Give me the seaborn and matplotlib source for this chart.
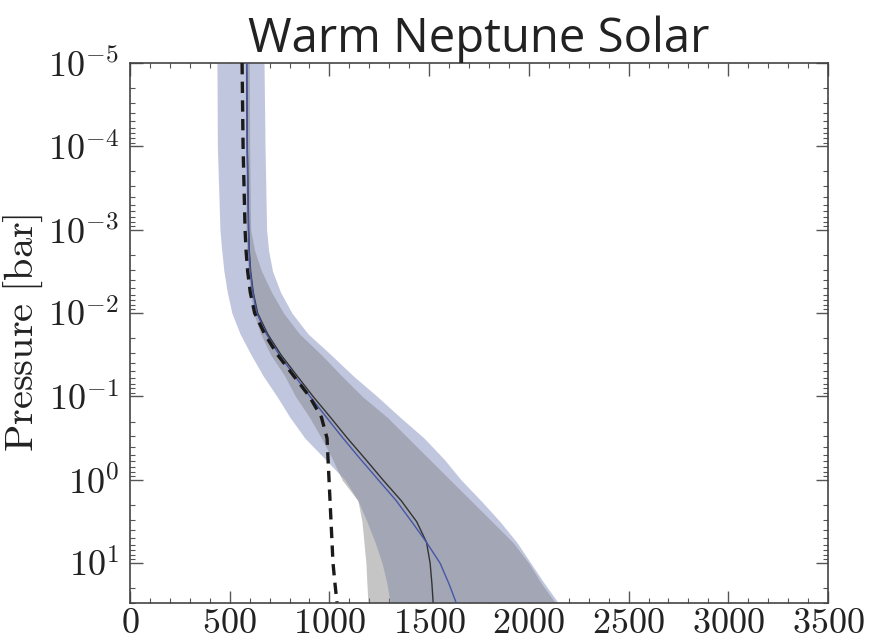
import numpy as np
import pandas as pd
import matplotlib
matplotlib.use("Agg")
import matplotlib.pyplot as plt
import seaborn as sns
from matplotlib.ticker import MultipleLocator, LogLocator, NullFormatter

# ---- data ----
log_p = [-5, -4, -3, -2.75, -2.5, -2.25, -2, -1.75, -1.5, -1.25, -1, -0.75,
         -0.5, -0.25, 0, 0.25, 0.5, 0.75, 1, 1.25, 1.47]

t_median_black = [585, 588, 595, 598, 605, 618, 640, 690, 757, 837, 918, 1005,
                  1090, 1180, 1268, 1360, 1437, 1487, 1505, 1514, 1520]
t_median_blue = [585, 588, 594, 597, 603, 616, 636, 684, 748, 825, 903, 985,
                 1068, 1155, 1245, 1335, 1412, 1487, 1555, 1600, 1635]
t_dashed = [562, 567, 577, 582, 590, 603, 625, 675, 740, 820, 900, 960,
            988, 993, 998, 1003, 1008, 1013, 1018, 1028, 1038]

blue_lo = [436, 438, 451, 460, 471, 488, 511, 552, 607, 667, 737, 802,
           877, 978, 1078, 1143, 1188, 1229, 1264, 1289, 1304]
blue_hi = [672, 677, 685, 695, 715, 755, 812, 893, 1008, 1118, 1240, 1355,
           1475, 1574, 1660, 1760, 1855, 1940, 2010, 2080, 2146]
gray_lo = [578, 580, 582, 585, 592, 603, 620, 655, 705, 775, 830, 900,
           960, 1015, 1063, 1143, 1163, 1173, 1183, 1188, 1193]
gray_hi = [598, 600, 605, 625, 660, 710, 770, 850, 960, 1060, 1165, 1290,
           1395, 1500, 1605, 1710, 1815, 1920, 2000, 2065, 2131]

xticks = [0, 500, 1000, 1500, 2000, 2500, 3000, 3500]
yticks = [1e-5, 1e-4, 1e-3, 1e-2, 1e-1, 1e0, 1e1]
ytick_labels = [r"$10^{-5}$", r"$10^{-4}$", r"$10^{-3}$", r"$10^{-2}$",
                r"$10^{-1}$", r"$10^{0}$", r"$10^{1}$"]
title = "Warm Neptune Solar"
ylabel = r"$\mathrm{Pressure\ [bar]}$"

# ---- figure ----
sns.set_theme(style="ticks")
plt.rcParams["mathtext.fontset"] = "cm"
plt.rcParams["font.family"] = ["DejaVu Serif"]

pressure = np.power(10.0, log_p)
n = len(log_p)
df = pd.DataFrame({
    "P": np.concatenate([pressure] * 3),
    "T": t_median_black + t_median_blue + t_dashed,
    "curve": ["black"] * n + ["blue"] * n + ["dashed"] * n,
})

fig = plt.figure(figsize=(8.74, 6.41), dpi=100)
ax = fig.add_axes([130 / 874, 1 - 603 / 641, 698 / 874, 540 / 641])

ax.fill_betweenx(pressure, blue_lo, blue_hi, color="#c1c6df", lw=0, zorder=1)
ax.fill_betweenx(pressure, gray_lo, gray_hi, color="#808080", alpha=0.45, lw=0, zorder=2)

sns.lineplot(data=df[df.curve == "black"], x="T", y="P", orient="y", sort=False,
             color="#333333", lw=1.0, ax=ax, zorder=4)
sns.lineplot(data=df[df.curve == "blue"], x="T", y="P", orient="y", sort=False,
             color="#4656a8", lw=1.0, ax=ax, zorder=5)
sns.lineplot(data=df[df.curve == "dashed"], x="T", y="P", orient="y", sort=False,
             color="#1a1a1a", lw=2.4, ax=ax, zorder=6)
ax.lines[-1].set_linestyle((0, (3.4, 2.2)))

ax.set_yscale("log")
ax.set_ylim(30, 1e-5)
ax.set_xlim(0, 3500)

ax.set_xticks(xticks, labels=[r"$%d$" % v for v in xticks])
ax.set_yticks(yticks, labels=ytick_labels)
ax.xaxis.set_minor_locator(MultipleLocator(100))
ax.yaxis.set_minor_locator(LogLocator(base=10, subs=np.arange(2, 10), numticks=20))
ax.yaxis.set_minor_formatter(NullFormatter())

ax.tick_params(which="major", direction="in", length=9, width=1.0, color="#555555",
               top=True, right=True, labelsize=26)
ax.tick_params(which="minor", direction="in", length=3.5, width=0.8, color="#555555",
               top=True, right=True)
ax.tick_params(axis="y", which="major", pad=8)
ax.tick_params(axis="x", which="major", pad=2)
for s in ax.spines.values():
    s.set_color("#444444")
    s.set_linewidth(1.2)

ax.set_xlabel("")
ax.set_ylabel(ylabel, fontsize=29, color="#222222", labelpad=2)
ax.set_title(title, fontsize=34, family="Open Sans", color="#222222", pad=5)
for lab in ax.get_xticklabels() + ax.get_yticklabels():
    lab.set_color("#222222")

fig.savefig("out.png", dpi=100)
